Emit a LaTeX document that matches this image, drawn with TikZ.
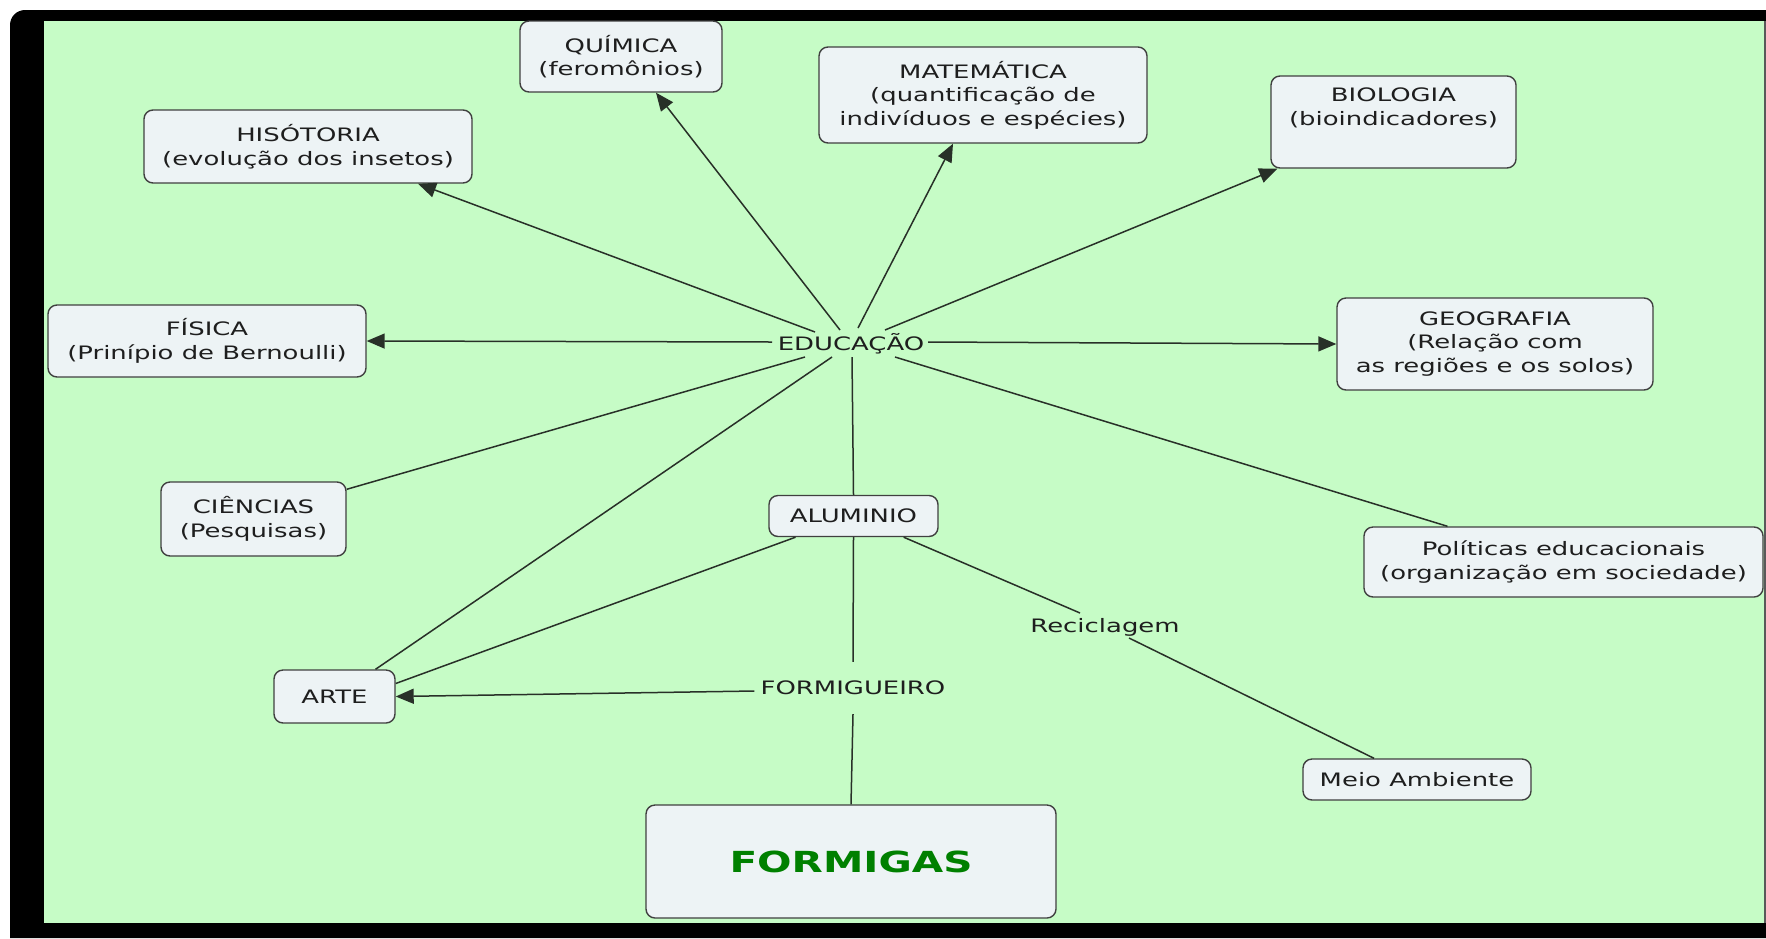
\documentclass[tikz,border=0pt]{standalone}
\usepackage{fontspec}
\setmainfont{DejaVu Sans}[FakeStretch=1.4]
\usetikzlibrary{arrows.meta,calc}
\definecolor{bg}{RGB}{198,252,198}
\definecolor{nodefill}{RGB}{237,243,245}
\definecolor{ln}{RGB}{40,48,40}
\definecolor{txt}{RGB}{30,30,30}
\definecolor{fgreen}{RGB}{0,128,0}
\begin{document}
\begin{tikzpicture}[x=1pt,y=-1pt,
  box/.style={draw=black!75, fill=nodefill, rounded corners=9pt, line width=1.4pt,
    align=center, inner sep=0pt, text=txt, font=\fontsize{18.5}{23.5}\selectfont},
  lbl/.style={inner sep=0pt, text=txt, font=\fontsize{18.5}{23.5}\selectfont},
  con/.style={draw=ln, line width=1.5pt},
  arr/.style={con, -{Triangle[length=18pt,width=15pt]}}]
\useasboundingbox (0,0) rectangle (1766,938);
\fill[white] (0,0) rectangle (1766,938);
% frame
\fill[black] (10,938) [rounded corners=15pt] -- (10,10) [sharp corners] -- (1766,10) -- (1766,938) -- cycle;
\fill[bg] (44,21) rectangle (1764,923);
\fill[black!65] (1764,21) rectangle (1766,923);
% nodes
\node[box, minimum width=202pt, minimum height=71pt] (quim) at (621,56.5) {QUÍMICA\\(feromônios)};
\node[box, minimum width=328pt, minimum height=96pt] (mat) at (983,95) {MATEMÁTICA\\(quantificação de\\indivíduos e espécies)};
\node[box, minimum width=245pt, minimum height=92pt] (bio) at (1393.5,122) {BIOLOGIA\\(bioindicadores)\\\strut};
\node[box, minimum width=328pt, minimum height=73pt] (hist) at (308,146.5) {HISÓTORIA\\(evolução dos insetos)};
\node[box, minimum width=318pt, minimum height=72pt] (fis) at (207,341) {FÍSICA\\(Prinípio de Bernoulli)};
\node[lbl] (edu) at (851,344) {EDUCAÇÃO};
\node[box, minimum width=316pt, minimum height=92pt] (geo) at (1495,344) {GEOGRAFIA\\(Relação com\\as regiões e os solos)};
\node[box, minimum width=185pt, minimum height=74pt] (cien) at (253.5,519) {CIÊNCIAS\\(Pesquisas)};
\node[box, minimum width=169pt, minimum height=41pt] (alu) at (853.5,516) {ALUMINIO};
\node[box, minimum width=399pt, minimum height=70pt] (pol) at (1563.5,562) {Políticas educacionais\\(organização em sociedade)};
\node[lbl] (rec) at (1105,627) {Reciclagem};
\node[box, minimum width=121pt, minimum height=53pt] (arte) at (334.5,696.5) {ARTE};
\node[lbl, minimum height=52pt, inner xsep=6pt] (formig) at (853,688) {FORMIGUEIRO};
\node[box, minimum width=228pt, minimum height=41pt] (meio) at (1417,779.5) {Meio Ambiente};
\node[box, minimum width=410pt, minimum height=113pt, text=fgreen,
  font=\fontsize{29}{35}\selectfont\bfseries] (formigas) at (851,861.5) {FORMIGAS};
% connectors
\draw[arr] ($(edu.center)+(-36,-12)$) -- ($(hist.south)+(110,0)$);
\draw[arr] ($(edu.center)+(-11,-14)$) -- ($(quim.south)+(35,0)$);
\draw[arr] ($(edu.center)+(7,-16)$) -- ($(mat.south)+(-30,0)$);
\draw[arr] ($(edu.center)+(34,-14)$) -- ($(bio.south west)+(7,0)$);
\draw[arr] ($(edu.center)+(-79,-2)$) -- (fis.east);
\draw[arr] ($(edu.center)+(77,-2)$) -- (geo.west);
\draw[con] ($(edu.center)+(-46,13)$) -- ($(cien.north east)+(0,8)$);
\draw[con] ($(edu.center)+(-19,13)$) -- ($(arte.north)+(41,0)$);
\draw[con] ($(edu.center)+(44,13)$) -- ($(pol.north)+(-116,0)$);
\draw[con] ($(edu.center)+(1,13)$) -- (alu.north);
\draw[con] ($(alu.south)+(-58,0)$) -- ($(arte.east)+(0,-13)$);
\draw[con] (alu.south) -- (formig.north);
\draw[arr] ($(formig.west)+(0,3)$) -- (arte.east);
\draw[con] (formig.south) -- (formigas.north);
\draw[con] ($(alu.south east)+(-35,0)$) -- ($(rec.center)+(-25,-14)$);
\draw[con] ($(rec.center)+(24,11)$) -- ($(meio.north)+(-43,0)$);
\end{tikzpicture}
\end{document}
